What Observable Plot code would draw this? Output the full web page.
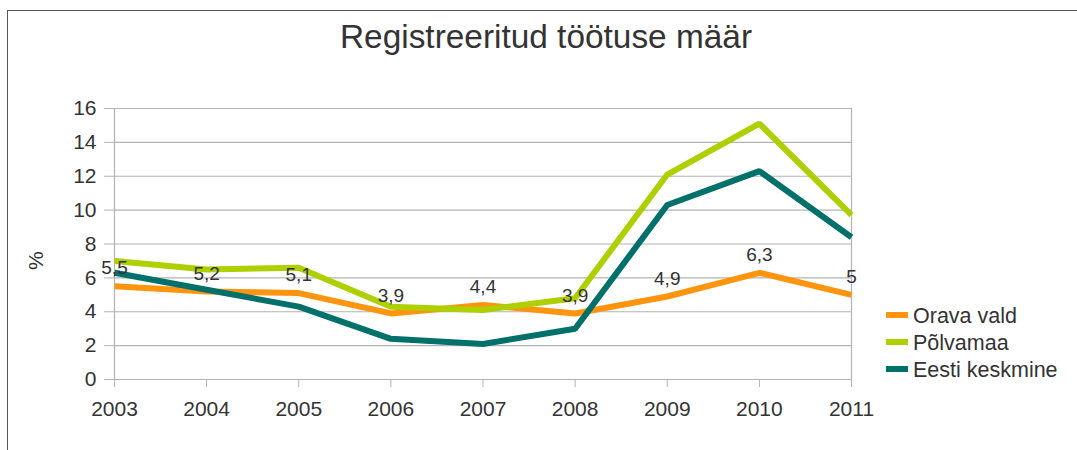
<!DOCTYPE html>
<html>
<head>
<meta charset="utf-8">
<script src="https://cdn.jsdelivr.net/npm/d3@7"></script>
<script src="https://cdn.jsdelivr.net/npm/@observablehq/plot@0.6"></script>
<style>
  html, body { margin: 0; padding: 0; background: #fff; }
  #wrap { position: relative; width: 1077px; height: 450px; overflow: hidden; font-family: "Liberation Sans", Arial, sans-serif; color: #333; }
  #border { position: absolute; left: 7px; top: 10px; width: 1200px; height: 600px; border-left: 1px solid #555; border-top: 1px solid #555; }
  #title { position: absolute; left: 0; width: 1092px; top: 18px; text-align: center; font-size: 33.4px; color: #333; }
  #chart { position: absolute; left: 0; top: 0; }
  .leg { position: absolute; left: 886px; font-size: 21.5px; color: #333; white-space: nowrap; }
  .leg span.sw { display: inline-block; width: 22px; height: 6px; vertical-align: middle; margin-right: 5px; position: relative; top: -2px; }
</style>
</head>
<body>
<div id="wrap">
  <div id="border"></div>
  <div id="title">Registreeritud töötuse määr</div>
  <div id="chart"></div>
  <div id="legend"></div>
</div>
<script>
const years = [2003, 2004, 2005, 2006, 2007, 2008, 2009, 2010, 2011];
const seriesNames = ["Orava vald", "Põlvamaa", "Eesti keskmine"];
const orava = [5.5, 5.2, 5.1, 3.9, 4.4, 3.9, 4.9, 6.3, 5.0];
const polvamaa = [7.0, 6.5, 6.6, 4.3, 4.1, 4.8, 12.1, 15.1, 9.7];
const eesti = [6.3, 5.3, 4.3, 2.4, 2.1, 3.0, 10.3, 12.3, 8.4];
const colors = ["#ff950e", "#aecf00", "#00706b"];
const yTicks = [0, 2, 4, 6, 8, 10, 12, 14, 16];

const values = [orava, polvamaa, eesti];
const data = [];
seriesNames.forEach((s, i) => years.forEach((y, j) => data.push({series: s, year: y, value: values[i][j]})));
const oravaData = data.filter(d => d.series === seriesNames[0]);
const fmt = v => String(v).replace(".", ",");

const chart = Plot.plot({
  width: 1077,
  height: 450,
  marginLeft: 114,
  marginRight: 226,
  marginTop: 108,
  marginBottom: 71,
  style: {fontFamily: "Liberation Sans, Arial, sans-serif", fontSize: "21px", color: "#333", background: "transparent", overflow: "visible"},
  x: {domain: [2003, 2011], ticks: years, tickFormat: d => String(d), label: null},
  y: {domain: [0, 16], ticks: yTicks, label: null},
  color: {domain: seriesNames, range: colors},
  marks: [
    Plot.gridY(yTicks, {stroke: "#b3b3b3", strokeOpacity: 1, strokeWidth: 1.2}),
    Plot.ruleX([2003, 2011], {stroke: "#b3b3b3", strokeWidth: 1.2}),
    Plot.axisY({ticks: yTicks, tickSize: 10, tickPadding: 8, stroke: "#b3b3b3", fill: "#333", fontSize: 21, label: null}),
    Plot.axisX({ticks: years, tickFormat: d => String(d), tickSize: 8, tickPadding: 14, stroke: "#b3b3b3", fill: "#333", fontSize: 21, label: null}),
    Plot.text(["%"], {frameAnchor: "left", dx: -78, dy: 26, rotate: -90, fontSize: 21, fill: "#333"}),
    Plot.line(data, {x: "year", y: "value", z: "series", stroke: "series", strokeWidth: 6, strokeLinejoin: "miter", strokeLinecap: "butt"}),
    Plot.text(oravaData, {x: "year", y: "value", text: d => fmt(d.value), dy: -18, fontSize: 19, fill: "#333"})
  ]
});
document.getElementById("chart").appendChild(chart);

const legend = document.getElementById("legend");
const legTops = [304, 331, 358];
seriesNames.forEach((s, i) => {
  const div = document.createElement("div");
  div.className = "leg";
  div.style.top = legTops[i] + "px";
  div.innerHTML = `<span class="sw" style="background:${colors[i]}"></span>${s}`;
  legend.appendChild(div);
});
</script>
</body>
</html>
